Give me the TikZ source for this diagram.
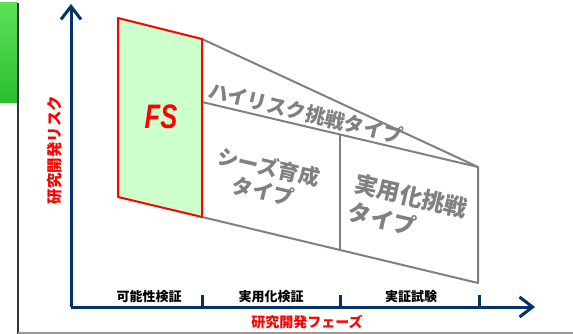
\documentclass[tikz,border=0pt]{standalone}
\usepackage{xcolor}
\usepackage{fontspec}
\usepackage{tikz}
\usetikzlibrary{arrows.meta, positioning}
\setmainfont{Liberation Sans}
\newfontfamily\jp{Noto Sans CJK JP}
\definecolor{axisblue}{RGB}{0,51,102}
\definecolor{typegray}{RGB}{128,128,128}
\definecolor{fsgreen}{RGB}{204,255,204}

\begin{document}
\begin{tikzpicture}[x=1pt, y=-1pt,
    axis/.style={draw=axisblue, line width=3pt},
    typeline/.style={draw=typegray, line width=2pt, line join=round},
    typelabel/.style={text=typegray, font=\jp\bfseries\fontsize{21}{25}\selectfont, inner sep=0pt},
    phaselabel/.style={font=\jp\bfseries\fontsize{13}{15}\selectfont, inner sep=0pt},
    axislabel/.style={text=red, font=\jp\bfseries\fontsize{14}{16}\selectfont, inner sep=0pt}]
    \useasboundingbox (0,0) rectangle (573,334);
    % Slide frame
    \shade[top color={rgb,255:red,91;green,226;blue,91}, bottom color={rgb,255:red,44;green,190;blue,44}] (0,3) rectangle (17,103);
    \draw[line width=2pt, color=black!80] (18,3) -- (18,334);
    \draw[line width=1.5pt, color=gray!80] (18,333) -- (573,333);
    % Corners of the types
    \coordinate (fstl) at (118,18);
    \coordinate (fstr) at (202,39);
    \coordinate (fsbr) at (202,217);
    \coordinate (fsbl) at (118,197);
    \coordinate (hrl) at (202,102);
    \coordinate (tip) at (478,167);
    \coordinate (endb) at (478,283);
    \coordinate (divt) at (340,134.5);
    \coordinate (divb) at (340,250);
    % Types
    \draw[typeline] (fstr) -- (tip) -- (endb) -- (fsbr);
    \draw[typeline] (hrl) -- (tip);
    \draw[typeline] (divt) -- (divb);
    \draw[fill=fsgreen, draw=red, line width=2pt, line join=round] (fstl) -- (fstr) -- (fsbr) -- (fsbl) -- cycle;
    % Axes
    \coordinate (origin) at (71,307);
    \coordinate (ytop) at (71,4);
    \coordinate (xend) at (535,307);
    \draw[axis, -{Straight Barb[length=13pt, width=20pt]}] (origin) -- (ytop);
    \draw[axis, -{Straight Barb[length=13pt, width=20pt]}] (origin) -- (xend);
    \draw[axis] (202,307) -- (202,295);
    \draw[axis] (340,307) -- (340,295);
    \draw[axis] (479,307) -- (479,295);
    % Labels
    \node[text=red, font=\bfseries\itshape\fontsize{34}{34}\selectfont, xscale=0.75] (fs) at (161,117) {FS};
    \node[typelabel, font=\jp\bfseries\fontsize{20}{24}\selectfont, rotate=-13.5] (highrisk) at (306,113) {ハイリスク挑戦タイプ};
    \node[typelabel, align=center, rotate=-13] (seeds) at (266,179) {シーズ育成\\タイプ};
    \node[typelabel, align=left, rotate=-13, font=\jp\bfseries\fontsize{23}{29}\selectfont] (practical) at (408,210) {実用化挑戦\\タイプ};
    \node[phaselabel] (phase1) at (149,297) {可能性検証};
    \node[phaselabel] (phase2) at (271,297) {実用化検証};
    \node[phaselabel] (phase3) at (411,297) {実証試験};
    \node[axislabel] (xlabel) at (307,322) {研究開発フェーズ};
    \node[axislabel, font=\jp\bfseries\fontsize{15.5}{17}\selectfont, rotate=90] (ylabel) at (55,150) {研究開発リスク};
\end{tikzpicture}
\end{document}
